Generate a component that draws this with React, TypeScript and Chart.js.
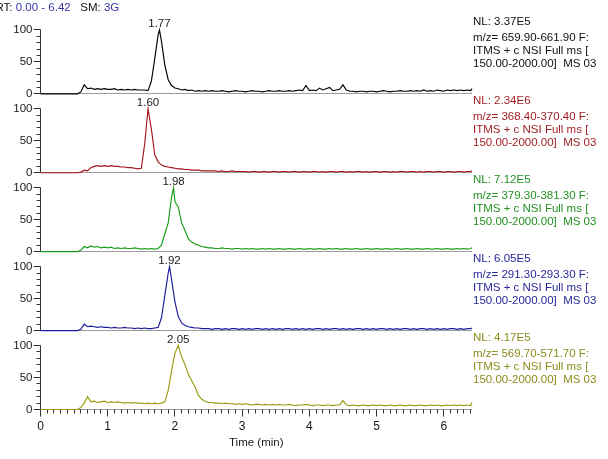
import { useEffect, useRef } from "react";
import { Chart, registerables } from "chart.js";

Chart.register(...registerables);

// Scan times (min)
const scanTimes = [
  0, 0.05, 0.1, 0.15, 0.2, 0.25, 0.3, 0.35, 0.4, 0.45,
  0.5, 0.55, 0.6, 0.65, 0.7, 0.75, 0.8, 0.85, 0.9, 0.95,
  1, 1.05, 1.1, 1.15, 1.2, 1.25, 1.3, 1.35, 1.4, 1.45,
  1.5, 1.55, 1.6, 1.65, 1.7, 1.75, 1.8, 1.85, 1.9, 1.95,
  2, 2.05, 2.1, 2.15, 2.2, 2.25, 2.3, 2.35, 2.4, 2.45,
  2.5, 2.55, 2.6, 2.65, 2.7, 2.75, 2.8, 2.85, 2.9, 2.95,
  3, 3.05, 3.1, 3.15, 3.2, 3.25, 3.3, 3.35, 3.4, 3.45,
  3.5, 3.55, 3.6, 3.65, 3.7, 3.75, 3.8, 3.85, 3.9, 3.95,
  4, 4.05, 4.1, 4.15, 4.2, 4.25, 4.3, 4.35, 4.4, 4.45,
  4.5, 4.55, 4.6, 4.65, 4.7, 4.75, 4.8, 4.85, 4.9, 4.95,
  5, 5.05, 5.1, 5.15, 5.2, 5.25, 5.3, 5.35, 5.4, 5.45,
  5.5, 5.55, 5.6, 5.65, 5.7, 5.75, 5.8, 5.85, 5.9, 5.95,
  6, 6.05, 6.1, 6.15, 6.2, 6.25, 6.3, 6.35, 6.4, 6.42,
];

// Relative abundance (%) per extracted ion trace
const mz660 = [
  0, 0, 0, 0, 0, 0, 0, 0, 0, 0,
  0, 0, 3, 14, 8, 9, 7, 8, 7, 8,
  7, 7, 8, 6, 7, 6, 7, 6, 7, 6,
  6, 6, 5, 20, 55, 92, 82, 45, 22, 13,
  9, 8, 6, 7, 5, 6, 4, 5, 4, 5,
  4, 5, 4, 4, 5, 4, 3, 4, 5, 4,
  4, 3, 4, 5, 4, 4, 3, 4, 5, 4,
  4, 5, 4, 4, 5, 4, 5, 6, 5, 13,
  5, 6, 5, 9, 6, 8, 10, 5, 6, 7,
  14, 6, 4, 4, 3, 4, 4, 3, 4, 4,
  3, 4, 5, 4, 3, 4, 4, 5, 4, 4,
  5, 4, 5, 4, 6, 4, 5, 4, 6, 5,
  4, 6, 5, 6, 5, 6, 5, 6, 5, 8,
];

const mz369 = [
  0, 0, 0, 0, 0, 0, 0, 0, 0, 0,
  0, 0, 1, 4, 3, 8, 10, 11, 10, 11,
  10, 11, 10, 10, 9, 9, 8, 8, 7, 6,
  7, 45, 100, 68, 28, 17, 12, 10, 9, 8,
  7, 6, 6, 5, 5, 4, 4, 4, 3, 3,
  3, 3, 3, 2, 3, 2, 2, 3, 2, 2,
  2, 2, 1, 2, 2, 1, 2, 2, 1, 2,
  2, 1, 2, 2, 1, 2, 2, 1, 2, 2,
  1, 2, 2, 1, 2, 1, 2, 2, 1, 2,
  2, 1, 2, 1, 2, 2, 1, 2, 1, 2,
  2, 1, 2, 2, 1, 2, 1, 2, 2, 1,
  2, 2, 1, 2, 1, 2, 2, 1, 2, 2,
  1, 2, 2, 1, 2, 2, 1, 2, 2, 3,
];

const mz380 = [
  0, 0, 0, 0, 0, 0, 0, 0, 0, 0,
  0, 0, 2, 8, 6, 9, 7, 8, 6, 7,
  6, 7, 5, 6, 5, 6, 5, 5, 6, 5,
  4, 5, 4, 5, 4, 5, 10, 28, 45, 85,
  78, 70, 45, 33, 20, 15, 12, 10, 8, 7,
  6, 6, 5, 5, 6, 5, 5, 4, 5, 5,
  4, 5, 4, 5, 4, 4, 5, 4, 5, 4,
  4, 5, 4, 4, 5, 4, 4, 5, 4, 4,
  5, 4, 4, 5, 4, 4, 5, 4, 5, 4,
  4, 5, 4, 4, 5, 4, 4, 5, 4, 4,
  5, 4, 4, 5, 4, 4, 5, 4, 4, 5,
  4, 4, 5, 4, 4, 5, 4, 4, 5, 4,
  4, 5, 4, 4, 5, 4, 5, 4, 5, 6,
];

const mz292 = [
  0, 0, 0, 0, 0, 0, 0, 0, 0, 0,
  0, 0, 2, 10, 6, 7, 6, 5, 6, 5,
  5, 4, 5, 4, 4, 5, 4, 4, 3, 4,
  3, 4, 3, 3, 4, 5, 20, 55, 90, 80,
  45, 22, 12, 8, 6, 5, 4, 4, 3, 3,
  3, 2, 3, 3, 2, 3, 2, 3, 3, 2,
  3, 2, 3, 2, 3, 3, 2, 3, 2, 3,
  2, 3, 2, 3, 3, 2, 3, 2, 3, 2,
  3, 2, 3, 3, 2, 3, 2, 3, 3, 2,
  3, 2, 3, 2, 3, 3, 2, 3, 2, 3,
  2, 3, 3, 2, 3, 2, 3, 2, 3, 3,
  2, 3, 2, 3, 3, 2, 3, 2, 3, 2,
  3, 2, 3, 3, 2, 3, 2, 3, 3, 4,
];

const mz570 = [
  0, 0, 0, 0, 0, 0, 0, 0, 0, 0,
  0, 0, 3, 10, 20, 12, 13, 11, 12, 13,
  11, 12, 11, 12, 11, 10, 11, 10, 11, 10,
  10, 9, 10, 9, 10, 9, 10, 12, 30, 60,
  88, 100, 82, 70, 55, 45, 35, 22, 16, 13,
  11, 11, 10, 10, 9, 10, 9, 9, 8, 9,
  8, 9, 8, 7, 8, 8, 7, 8, 7, 8,
  7, 8, 7, 7, 8, 7, 6, 7, 7, 8,
  7, 6, 7, 7, 6, 7, 7, 6, 7, 7,
  14, 7, 6, 7, 6, 6, 7, 6, 6, 7,
  6, 7, 6, 6, 7, 6, 6, 7, 6, 6,
  7, 6, 6, 7, 6, 6, 7, 6, 7, 6,
  6, 7, 6, 7, 6, 7, 6, 7, 6, 11,
];

// Peak apex retention times (min) and their relative abundance
const apexTimes = [1.77, 1.6, 1.98, 1.92, 2.05];
const apexAbundance = 100;

// Trace header texts
const normLevels = ["3.37E5", "2.34E6", "7.12E5", "6.05E5", "4.17E5"];
const massRanges = ["659.90-661.90", "368.40-370.40", "379.30-381.30", "291.30-293.30", "569.70-571.70"];
const scanFilter = "ITMS + c NSI Full ms [";
const scanRange = "150.00-2000.00]  MS 03";
const rtRange = "0.00 - 6.42";
const smoothing = "3G";

// Axis ticks
const timeTicks = [0, 1, 2, 3, 4, 5, 6];
const abundanceTicks = [0, 50, 100];

const traces = [mz660, mz369, mz380, mz292, mz570];
const lineColors = ["#000000", "#a3151b", "#169c16", "#1c1c9a", "#9a9a12"];
const textColors = ["#111111", "#9e1b1f", "#238f23", "#28289a", "#8c8c1e"];
const headerBlue = "#3636a8";

const FONT = '"Liberation Sans", Arial, Helvetica, sans-serif';
const panelIds = traces.map((_, i) => `panel${i}`);
const SEG_MAX = 123.4;

function font(size: number) {
  return `${size}px ${FONT}`;
}

const snap = (v: number) => Math.round(v - 0.5) + 0.5;

const decorPlugin = {
  id: "chromDecor",
  beforeDatasetsDraw(chart: any) {
    const { ctx, chartArea } = chart;
    const xs = chart.scales.x;
    ctx.save();
    ctx.lineWidth = 1;
    const left = snap(chartArea.left);
    panelIds.forEach((id, i) => {
      const ys = chart.scales[id];
      const y0 = snap(ys.getPixelForValue(0));
      const y100 = snap(ys.getPixelForValue(100));
      // baseline
      ctx.strokeStyle = "#9c9c9c";
      ctx.beginPath();
      ctx.moveTo(left, y0);
      ctx.lineTo(chartArea.right, y0);
      ctx.stroke();
      // vertical axis
      ctx.strokeStyle = "#333333";
      ctx.beginPath();
      ctx.moveTo(left, y100);
      ctx.lineTo(left, y0);
      ctx.stroke();
      // ticks every 10 %, longer at labelled values
      for (let v = 0; v <= 100; v += 10) {
        const py = snap(ys.getPixelForValue(v));
        const len = abundanceTicks.includes(v) ? 7 : 4;
        ctx.beginPath();
        ctx.moveTo(left - len, py);
        ctx.lineTo(left, py);
        ctx.stroke();
      }
      if (i === panelIds.length - 1) {
        // time ticks every 0.1 min
        for (let k = 0; k <= 64; k++) {
          const t = k / 10;
          const px = snap(xs.getPixelForValue(t));
          const len = k % 10 === 0 ? 7 : 4;
          ctx.beginPath();
          ctx.moveTo(px, y0);
          ctx.lineTo(px, y0 + len);
          ctx.stroke();
        }
      }
    });
    ctx.restore();
  },
  afterDatasetsDraw(chart: any) {
    const { ctx, chartArea } = chart;
    const xs = chart.scales.x;
    ctx.save();
    ctx.font = font(11.5);
    panelIds.forEach((id, i) => {
      const ys = chart.scales[id];
      const y0 = ys.getPixelForValue(0);
      // apex label
      ctx.fillStyle = "#222222";
      ctx.textAlign = "center";
      ctx.textBaseline = "alphabetic";
      ctx.fillText(apexTimes[i].toFixed(2), xs.getPixelForValue(apexTimes[i]), ys.getPixelForValue(apexAbundance) - 2.5);
      // trace header
      ctx.fillStyle = textColors[i];
      ctx.textAlign = "left";
      ctx.textBaseline = "middle";
      const tx = chartArea.right + 1;
      ctx.fillText(`NL: ${normLevels[i]}`, tx, y0 - 71.5);
      ctx.fillText(`m/z= ${massRanges[i]} F:`, tx, y0 - 55.5);
      ctx.fillText(scanFilter, tx, y0 - 42.5);
      ctx.fillText(scanRange, tx, y0 - 29.5);
    });
    // range / smoothing header
    const parts: [string, string][] = [
      ["RT: ", "#111111"],
      [rtRange, headerBlue],
      ["   SM: ", "#111111"],
      [smoothing, headerBlue],
    ];
    let hx = -4.5;
    ctx.textAlign = "left";
    ctx.textBaseline = "middle";
    parts.forEach(([s, c]) => {
      ctx.fillStyle = c;
      ctx.fillText(s, hx, 7.5);
      hx += ctx.measureText(s).width;
    });
    ctx.restore();
  },
};

export default function App() {
  const canvasRef = useRef<HTMLCanvasElement | null>(null);

  useEffect(() => {
    const canvas = canvasRef.current;
    if (!canvas) return;

    const datasets = traces.map((vals, i) => {
      const pts = scanTimes.map((t, j) => ({ x: t, y: vals[j] }));
      const apex = apexTimes[i];
      const hit = pts.find((p) => Math.abs(p.x - apex) < 1e-9);
      if (hit) {
        hit.y = apexAbundance;
      } else {
        pts.push({ x: apex, y: apexAbundance });
        pts.sort((a, b) => a.x - b.x);
      }
      return {
        label: `m/z ${massRanges[i]}`,
        data: pts,
        yAxisID: panelIds[i],
        borderColor: lineColors[i],
        backgroundColor: lineColors[i],
        borderWidth: 1.15,
        pointRadius: 0,
        tension: 0,
        clip: false as const,
      };
    });

    const scales: any = {
      x: {
        type: "linear",
        position: "bottom",
        min: 0,
        max: 6.42,
        afterBuildTicks: (s: any) => {
          s.ticks = timeTicks.map((v) => ({ value: v }));
        },
        afterFit: (s: any) => {
          s.height = 49.5;
        },
        ticks: {
          autoSkip: false,
          maxRotation: 0,
          padding: 10,
          color: "#1a1a1a",
          font: { family: FONT, size: 12 },
          callback: (v: any) => String(v),
        },
        grid: { display: false, drawTicks: false },
        border: { display: false },
        title: {
          display: true,
          text: "Time (min)",
          color: "#1a1a1a",
          font: { family: FONT, size: 11.5 },
          padding: { top: 2, bottom: 9 },
        },
      },
    };

    // stacked panels; listed bottom-first so the first trace sits on top
    [...panelIds].reverse().forEach((id) => {
      scales[id] = {
        type: "linear",
        position: "left",
        stack: "panels",
        stackWeight: 1,
        offset: false,
        min: 0,
        max: SEG_MAX,
        afterBuildTicks: (s: any) => {
          s.ticks = abundanceTicks.map((v) => ({ value: v }));
        },
        afterFit: (s: any) => {
          s.width = 40;
        },
        ticks: {
          autoSkip: false,
          padding: 8,
          color: "#1a1a1a",
          font: { family: FONT, size: 11.5 },
          callback: (v: any) => String(v),
        },
        grid: { display: false, drawTicks: false },
        border: { display: false },
      };
    });

    const chart = new Chart(canvas, {
      type: "line",
      data: { datasets },
      options: {
        responsive: false,
        devicePixelRatio: 1,
        animation: false,
        events: [],
        layout: { padding: { top: 14.5, right: 136, left: 0.5, bottom: 0 } },
        plugins: {
          legend: { display: false },
          tooltip: { enabled: false },
        },
        scales,
      },
      plugins: [decorPlugin],
    });

    return () => chart.destroy();
  }, []);

  return (
    <div style={{ position: "fixed", left: 0, top: 0, width: 608, height: 459, background: "#ffffff" }}>
      <canvas ref={canvasRef} width={608} height={459} style={{ display: "block" }} />
    </div>
  );
}
